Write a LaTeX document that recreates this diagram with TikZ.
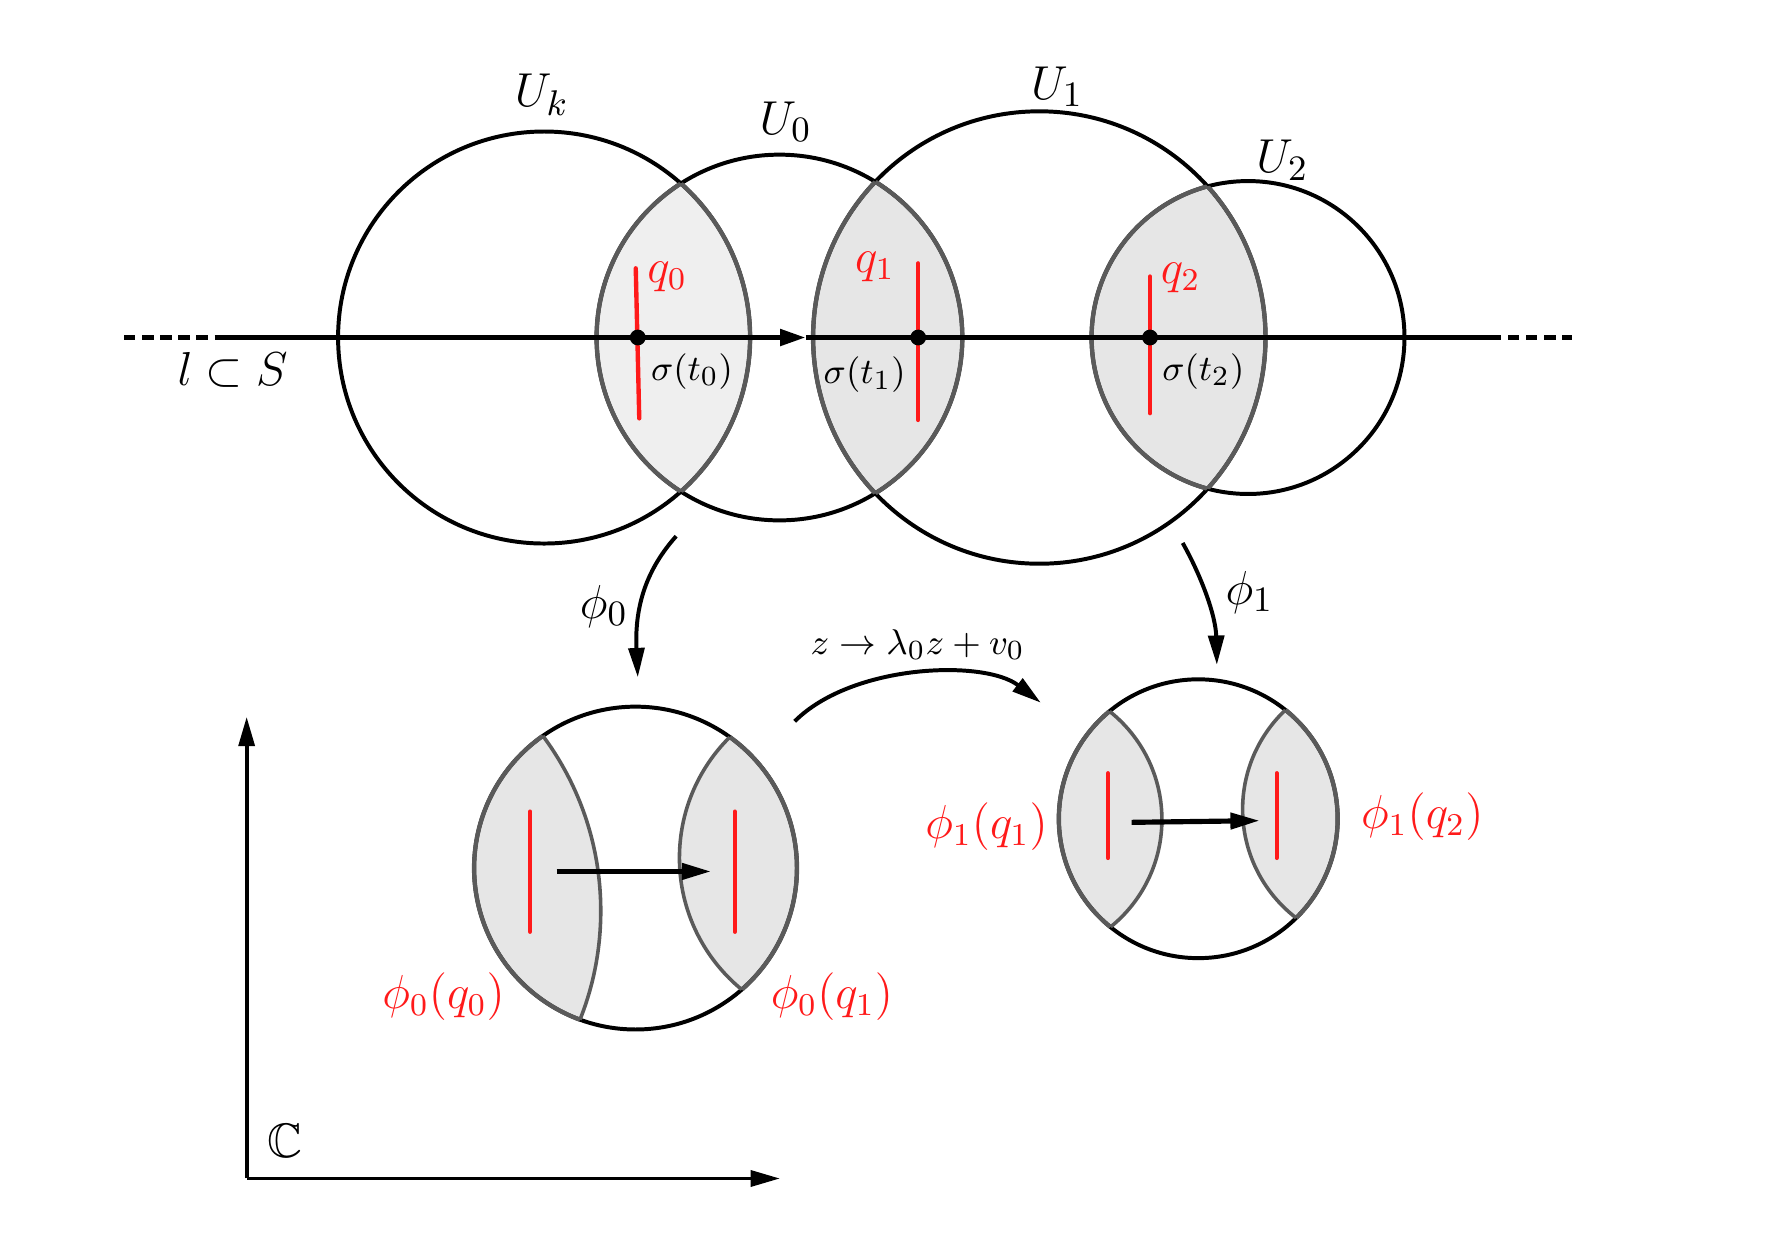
\documentclass[tikz,border=0pt]{standalone}
\usepackage{amssymb}
\usetikzlibrary{arrows.meta}
\definecolor{lensA}{HTML}{EFEFEF}
\definecolor{lensB}{HTML}{E6E6E6}
\definecolor{rim}{HTML}{5A5A5A}
\definecolor{qred}{HTML}{FF1A1A}
\tikzset{
  circ/.style={line width=1pt, draw=black},
  rimthick/.style={line width=1.1pt, draw=rim},
  rimthin/.style={line width=0.9pt, draw=rim},
  qline/.style={line width=1.1pt, draw=qred, line cap=round},
  tip/.style={-{Triangle[length=2.6mm,width=1.4mm]}},
  bigl/.style={font=\fontsize{12.2}{14}\selectfont, inner sep=0pt},
  smalll/.style={font=\fontsize{9.3}{11}\selectfont, inner sep=0pt},
  redl/.style={text=qred, font=\fontsize{11.6}{14}\selectfont, inner sep=0pt},
  dotpt/.style={fill=black},
}
\begin{document}
\begin{tikzpicture}[x=0.01cm,y=-0.01cm]
\useasboundingbox (0,0) rectangle (1568,1106);
% ---------- top circles ----------
\coordinate (ck) at (482,299);
\coordinate (c0) at (690.5,299);
\coordinate (c1) at (920.7,299);
\coordinate (c2) at (1105.6,299);
% lens fills
\begin{scope}\clip (ck) circle (182.5); \fill[lensA] (c0) circle (162); \end{scope}
\begin{scope}\clip (c0) circle (162); \fill[lensB] (c1) circle (200.4); \end{scope}
\begin{scope}\clip (c1) circle (200.4); \fill[lensB] (c2) circle (138.6); \end{scope}
% circles
\draw[circ] (ck) circle (182.5);
\draw[circ] (c0) circle (162);
\draw[circ] (c1) circle (200.4);
\draw[circ] (c2) circle (138.6);
% lens rims
\begin{scope}\clip (ck) circle (182.5); \draw[rimthick] (c0) circle (162); \end{scope}
\begin{scope}\clip (c0) circle (162); \draw[rimthick] (ck) circle (182.5); \end{scope}
\begin{scope}\clip (c0) circle (162); \draw[rimthick] (c1) circle (200.4); \end{scope}
\begin{scope}\clip (c1) circle (200.4); \draw[rimthick] (c0) circle (162); \end{scope}
\begin{scope}\clip (c1) circle (200.4); \draw[rimthick] (c2) circle (138.6); \end{scope}
\begin{scope}\clip (c2) circle (138.6); \draw[rimthick] (c1) circle (200.4); \end{scope}
% main line
\coordinate (la) at (110,299);
\coordinate (lb) at (192,299);
\coordinate (lm) at (714,299);
\coordinate (lc) at (1320,299);
\coordinate (ld) at (1393,299);
\draw[line width=1.4pt, dash pattern=on 0.1cm off 0.06cm] (la) -- (lb);
\draw[line width=1.4pt, -{Triangle[length=2.3mm,width=1.4mm]}] (lb) -- (lm);
\draw[line width=1.4pt] (lm) -- (lc);
\draw[line width=1.4pt, dash pattern=on 0.1cm off 0.06cm] (lc) -- (ld);
% red segments
\coordinate (q0a) at (563.2,237.7); \coordinate (q0b) at (566.3,370.6);
\coordinate (q1a) at (813.4,233.3); \coordinate (q1b) at (813.4,372);
\coordinate (q2a) at (1018.8,245); \coordinate (q2b) at (1018.8,366);
\draw[qline] (q0a) -- (q0b);
\draw[qline] (q1a) -- (q1b);
\draw[qline] (q2a) -- (q2b);
% dots
\fill[dotpt] (565,299) circle (7);
\fill[dotpt] (813.4,299) circle (7);
\fill[dotpt] (1018.8,299) circle (7);
% top labels
\node[bigl] (Uk) at (480,84) {$U_k$};
\node[bigl] (U0) at (696,108) {$U_0$};
\node[bigl] (U1) at (936.5,77) {$U_1$};
\node[bigl] (U2) at (1136,142) {$U_2$};
\node[bigl] (lS) at (206,328) {$l\subset S$};
\node[redl] (q0) at (591,245) {$q_0$};
\node[redl] (q1) at (775,236) {$q_1$};
\node[redl] (q2) at (1046,246) {$q_2$};
\node[smalll] (s0) at (613,329) {$\sigma(t_0)$};
\node[smalll] (s1) at (766,332) {$\sigma(t_1)$};
\node[smalll] (s2) at (1066,329) {$\sigma(t_2)$};
% ---------- maps ----------
\coordinate (f0a) at (599,475); \coordinate (f0b) at (565,600);
\draw[line width=1pt, tip] (f0a) .. controls (574,503) and (562,535) .. (f0b);
\node[bigl] (phi0) at (535,537) {$\phi_0$};
\coordinate (f1a) at (1047.7,481); \coordinate (f1b) at (1078,589);
\draw[line width=1pt, tip] (f1a) .. controls (1064,510) and (1077,545) .. (f1b);
\node[bigl] (phi1) at (1107,525) {$\phi_1$};
\coordinate (za) at (704,639); \coordinate (zb) at (922,622.5);
\draw[line width=1pt, tip] (za) .. controls (755,588) and (872,584) .. (zb);
\node[smalll] (zmap) at (813,571) {$z\rightarrow\lambda_0 z+v_0$};
% ---------- bottom-left disk ----------
\coordinate (d0) at (563,769);
\coordinate (p0) at (272,807);
\coordinate (p1) at (752.7,760);
\begin{scope}\clip (d0) circle (143); \fill[lensB] (p0) circle (260.2); \fill[lensB] (p1) circle (150.8); \end{scope}
\draw[circ] (d0) circle (143);
\begin{scope}\clip (d0) circle (143); \draw[rimthin] (p0) circle (260.2); \draw[rimthin] (p1) circle (150.8); \end{scope}
\begin{scope}\clip (p0) circle (260.2); \draw[rimthick] (d0) circle (143); \end{scope}
\begin{scope}\clip (p1) circle (150.8); \draw[rimthick] (d0) circle (143); \end{scope}
\coordinate (r0a) at (469.6,719); \coordinate (r0b) at (469.6,825.4);
\coordinate (r1a) at (651,719); \coordinate (r1b) at (651,825.4);
\draw[qline] (r0a) -- (r0b);
\draw[qline] (r1a) -- (r1b);
\coordinate (a0a) at (493,772); \coordinate (a0b) at (630,772);
\draw[line width=1.3pt, tip] (a0a) -- (a0b);
\node[redl] (p0q0) at (393,883) {$\phi_0(q_0)$};
\node[redl] (p0q1) at (737,883) {$\phi_0(q_1)$};
% ---------- bottom-right disk ----------
\coordinate (d1) at (1061.5,725.3);
\coordinate (t0) at (907,726);
\coordinate (t1) at (1222,717);
\begin{scope}\clip (d1) circle (123.5); \fill[lensB] (t0) circle (122.3); \fill[lensB] (t1) circle (121.2); \end{scope}
\draw[circ] (d1) circle (123.5);
\begin{scope}\clip (d1) circle (123.5); \draw[rimthin] (t0) circle (122.3); \draw[rimthin] (t1) circle (121.2); \end{scope}
\begin{scope}\clip (t0) circle (122.3); \draw[rimthick] (d1) circle (123.5); \end{scope}
\begin{scope}\clip (t1) circle (121.2); \draw[rimthick] (d1) circle (123.5); \end{scope}
\coordinate (s0a) at (981.6,685); \coordinate (s0b) at (981.6,760);
\coordinate (s1a) at (1131,685); \coordinate (s1b) at (1131,760);
\draw[qline] (s0a) -- (s0b);
\draw[qline] (s1a) -- (s1b);
\coordinate (a1a) at (1002.5,728.5); \coordinate (a1b) at (1116,727);
\draw[line width=1.3pt, tip] (a1a) -- (a1b);
\node[redl] (p1q1) at (874,732) {$\phi_1(q_1)$};
\node[redl] (p1q2) at (1260,723.5) {$\phi_1(q_2)$};
% ---------- axes ----------
\coordinate (o) at (218.5,1044);
\coordinate (ya) at (218.5,635);
\coordinate (xa) at (691,1044);
\draw[line width=1pt, tip] (o) -- (ya);
\draw[line width=1pt, tip] (o) -- (xa);
\node[bigl] (CC) at (252.5,1011) {$\mathbb{C}$};
\end{tikzpicture}
\end{document}
